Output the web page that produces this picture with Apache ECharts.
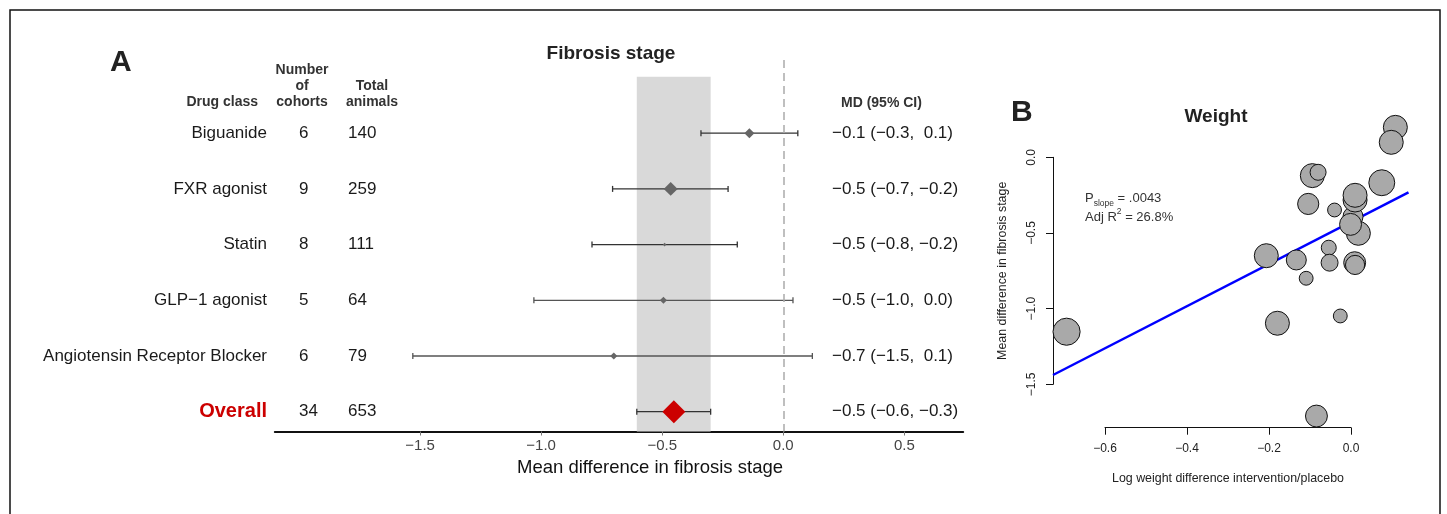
<!DOCTYPE html>
<html>
<head>
<meta charset="utf-8">
<title>Fibrosis stage</title>
<script src="https://cdn.jsdelivr.net/npm/echarts@6/dist/echarts.min.js"></script>
<style>
  html, body { margin: 0; padding: 0; background: #fff; }
  #chart { width: 1447px; height: 514px; }
</style>
</head>
<body>
<div id="chart"></div>
<script>
// ---- panel A: forest plot ----
var drugClasses = ['Biguanide', 'FXR agonist', 'Statin', 'GLP\u22121 agonist', 'Angiotensin Receptor Blocker', 'Overall'];
var cohorts = [6, 9, 8, 5, 6, 34];
var animals = [140, 259, 111, 64, 79, 653];
var mdMean = [-0.14, -0.465, -0.49, -0.495, -0.70, -0.452];
var mdLow = [-0.34, -0.705, -0.79, -1.03, -1.53, -0.605];
var mdHigh = [0.06, -0.228, -0.19, 0.04, 0.12, -0.30];
var classWeight = [16, 31, 2, 8, 8];
var forestTicks = [-1.5, -1.0, -0.5, 0.0, 0.5];

// ---- panel B: meta-regression on weight ----
var logWeightDiff = [0.109, 0.099, 0.076, -0.093, -0.079, -0.103, -0.039, 0.019, 0.006, 0.000, 0.011, 0.011,
  -0.205, -0.132, -0.053, -0.051, 0.010, 0.011, -0.108, -0.178, -0.025, -0.691, -0.083];
var fibrosisDiff = [0.198, 0.099, -0.168, -0.121, -0.099, -0.308, -0.348, -0.502, -0.392, -0.443, -0.282, -0.251,
  -0.650, -0.678, -0.597, -0.696, -0.696, -0.711, -0.799, -1.096, -1.048, -1.152, -1.709];
var cohortWeight = [36, 36, 42, 36, 16, 28, 12, 36, 25, 30, 36, 36,
  36, 25, 14, 18, 30, 23, 12, 36, 12, 46, 30];
var regIntercept = -0.428;
var regSlope = 1.395;

var FONT = '"Liberation Sans", Arial, Helvetica, sans-serif';
var nRows = drugClasses.length;

function fmt(v) {
  return (v < 0 ? '\u2212' : '') + Math.abs(v).toFixed(1);
}
function ciText(i) {
  return fmt(mdMean[i]) + ' (' + fmt(mdLow[i]) + ', ' + (mdHigh[i] >= 0 ? ' ' : '') + fmt(mdHigh[i]) + ')';
}

function txt(text, x, y, align, font, fill) {
  return {
    type: 'text',
    style: {
      text: text, x: x, y: y,
      align: align, textAlign: align,
      verticalAlign: 'middle', textVerticalAlign: 'middle',
      font: font, fill: fill
    }
  };
}

// table text drawn alongside each forest row
function renderTable(params, api) {
  var i = params.dataIndex;
  var y = api.coord([0, api.value(1)])[1];
  var isOverall = i === nRows - 1;
  var f = '17px ' + FONT;
  return {
    type: 'group',
    children: [
      txt(drugClasses[i], 267, y, 'right', isOverall ? 'bold 20px ' + FONT : f, isOverall ? '#cc0000' : '#1a1a1a'),
      txt(String(cohorts[i]), 299, y, 'left', f, '#1a1a1a'),
      txt(String(animals[i]), 348, y, 'left', f, '#1a1a1a'),
      txt(ciText(i), 832, y, 'left', f, '#1a1a1a')
    ]
  };
}

function renderCI(params, api) {
  var i = params.dataIndex;
  var y = api.coord([0, api.value(2)])[1];
  var x1 = api.coord([api.value(0), 0])[0];
  var x2 = api.coord([api.value(1), 0])[0];
  var c = (i === 3 || i === 4) ? '#555' : '#333';
  var st = { stroke: c, lineWidth: 1.3 };
  return {
    type: 'group',
    children: [
      { type: 'line', shape: { x1: x1, y1: y, x2: x2, y2: y }, style: st },
      { type: 'line', shape: { x1: x1, y1: y - 3, x2: x1, y2: y + 3 }, style: st },
      { type: 'line', shape: { x1: x2, y1: y - 3, x2: x2, y2: y + 3 }, style: st }
    ]
  };
}

var tableData = drugClasses.map(function (d, i) { return [0, i]; });
var ciData = drugClasses.map(function (d, i) { return [mdLow[i], mdHigh[i], i]; });
var classPoints = classWeight.map(function (w, i) { return [mdMean[i], i]; });
var overallPoint = [[mdMean[nRows - 1], nRows - 1]];

var bubbles = logWeightDiff.map(function (x, i) { return [x, fibrosisDiff[i]]; });
var bxMin = -0.724, bxMax = 0.141;
var regLine = [
  [bxMin, regIntercept + regSlope * bxMin],
  [bxMax, regIntercept + regSlope * bxMax]
];

var chart = echarts.init(document.getElementById('chart'));

var option = {
  animation: false,
  backgroundColor: '#fff',
  textStyle: { fontFamily: FONT },
  grid: [
    { left: 274.8, right: 483.8, top: 60, bottom: 82.5 },
    { left: 1053, right: 38.5, top: 124, bottom: 86.3 },
    { left: 1105, right: 96, top: 400, bottom: 86.3 },
    { left: 1053, width: 10, top: 157.3, bottom: 129.7 }
  ],
  xAxis: [
    {
      gridIndex: 0, type: 'value', min: -2.1, max: 0.743, position: 'bottom',
      splitLine: { show: false },
      axisLine: { show: true, onZero: false, lineStyle: { color: '#111', width: 2 } },
      axisTick: { show: true, customValues: forestTicks, length: 4, lineStyle: { color: '#777' } },
      axisLabel: {
        customValues: forestTicks, margin: 7, fontSize: 15, color: '#444', fontFamily: FONT,
        formatter: function (v) { return fmt(v); }
      },
      name: 'Mean difference in fibrosis stage', nameLocation: 'middle', nameGap: 24,
      nameTextStyle: { fontSize: 18.5, color: '#111', fontFamily: FONT, padding: [0, 0, 0, 62] }
    },
    { gridIndex: 1, type: 'value', min: bxMin, max: bxMax, show: false },
    {
      gridIndex: 2, type: 'value', min: -0.6, max: 0, interval: 0.2, position: 'bottom',
      splitLine: { show: false },
      axisLine: { show: true, onZero: false, lineStyle: { color: '#111', width: 1 } },
      axisTick: { show: true, length: 7, lineStyle: { color: '#111' } },
      axisLabel: {
        margin: 15, fontSize: 12, color: '#222', fontFamily: FONT,
        formatter: function (v) { return fmt(v); }
      },
      name: 'Log weight difference intervention/placebo', nameLocation: 'middle', nameGap: 45,
      nameTextStyle: { fontSize: 12.4, color: '#222', fontFamily: FONT }
    },
    { gridIndex: 3, type: 'value', show: false }
  ],
  yAxis: [
    { gridIndex: 0, type: 'value', inverse: true, min: -1.314, max: 5.355, show: false },
    { gridIndex: 1, type: 'value', min: -1.786, max: 0.22, show: false },
    { gridIndex: 2, type: 'value', show: false },
    {
      gridIndex: 3, type: 'value', min: -1.5, max: 0, interval: 0.5, position: 'left',
      splitLine: { show: false },
      axisLine: { show: true, onZero: false, lineStyle: { color: '#111', width: 1 } },
      axisTick: { show: true, length: 7, lineStyle: { color: '#111' } },
      axisLabel: {
        rotate: 90, margin: 15, fontSize: 12, color: '#222', fontFamily: FONT,
        formatter: function (v) { return fmt(v); }
      },
      name: 'Mean difference in fibrosis stage', nameLocation: 'middle', nameGap: 44,
      nameTextStyle: { fontSize: 12.4, color: '#222', fontFamily: FONT }
    }
  ],
  series: [
    {
      // carrier for the overall-CI band and the null line
      type: 'scatter', xAxisIndex: 0, yAxisIndex: 0, symbolSize: 0, silent: true, z: 1,
      data: [[mdLow[nRows - 1], nRows - 1]],
      markArea: {
        silent: true,
        itemStyle: { color: '#d9d9d9', opacity: 1 },
        data: [[{ xAxis: mdLow[nRows - 1], yAxis: -1.014 }, { xAxis: mdHigh[nRows - 1], yAxis: 5.355 }]]
      },
      markLine: {
        silent: true, symbol: 'none',
        label: { show: false },
        lineStyle: { color: '#aaa', type: [8, 5], width: 1.5 },
        data: [{ xAxis: 0 }]
      }
    },
    {
      type: 'custom', xAxisIndex: 0, yAxisIndex: 0, z: 3,
      renderItem: renderCI,
      encode: { x: [0, 1], y: 2 },
      data: ciData
    },
    {
      type: 'scatter', xAxisIndex: 0, yAxisIndex: 0, z: 4,
      symbol: 'diamond',
      symbolSize: function (v, p) { return 2.5 * Math.sqrt(classWeight[p.dataIndex]); },
      itemStyle: { color: '#666', opacity: 1 },
      data: classPoints
    },
    {
      type: 'scatter', xAxisIndex: 0, yAxisIndex: 0, z: 4,
      symbol: 'diamond', symbolSize: [23, 23],
      itemStyle: { color: '#cc0000', opacity: 1 },
      data: overallPoint
    },
    {
      type: 'custom', xAxisIndex: 0, yAxisIndex: 0, z: 5,
      renderItem: renderTable,
      encode: { x: 0, y: 1 },
      data: tableData
    },
    {
      type: 'line', xAxisIndex: 1, yAxisIndex: 1, z: 2, clip: false,
      symbol: 'none',
      lineStyle: { color: '#0000ff', width: 2.5 },
      data: regLine
    },
    {
      type: 'scatter', xAxisIndex: 1, yAxisIndex: 1, z: 3, clip: false,
      symbolSize: function (v, p) { return 4 * Math.sqrt(cohortWeight[p.dataIndex]); },
      itemStyle: { color: '#a9a9a9', borderColor: '#111', borderWidth: 1, opacity: 1 },
      data: bubbles
    }
  ],
  graphic: [
    {
      type: 'polyline', silent: true,
      shape: { points: [[10, 520], [10, 10], [1440, 10], [1440, 520]] },
      style: { stroke: '#111', lineWidth: 1.5, fill: null }
    },
    txt('A', 110, 63, 'left', 'bold 30px ' + FONT, '#222'),
    txt('B', 1011, 113, 'left', 'bold 30px ' + FONT, '#222'),
    txt('Fibrosis stage', 611, 54, 'center', 'bold 19px ' + FONT, '#222'),
    txt('Weight', 1216, 117, 'center', 'bold 19px ' + FONT, '#222'),
    txt('Drug class', 258, 102.5, 'right', 'bold 14px ' + FONT, '#333'),
    txt('Number', 302, 70.5, 'center', 'bold 14px ' + FONT, '#333'),
    txt('of', 302, 86.5, 'center', 'bold 14px ' + FONT, '#333'),
    txt('cohorts', 302, 102.5, 'center', 'bold 14px ' + FONT, '#333'),
    txt('Total', 372, 86.5, 'center', 'bold 14px ' + FONT, '#333'),
    txt('animals', 372, 102.5, 'center', 'bold 14px ' + FONT, '#333'),
    txt('MD (95% CI)', 841, 103.5, 'left', 'bold 14px ' + FONT, '#333'),
    {
      type: 'text', silent: true,
      style: {
        x: 1085, y: 198, align: 'left', textAlign: 'left', verticalAlign: 'middle', textVerticalAlign: 'middle',
        text: '{m|P}{s|slope}{m| = .0043}',
        rich: {
          m: { fontSize: 13, fontFamily: FONT, fill: '#333', color: '#333', lineHeight: 20 },
          s: { fontSize: 8.5, fontFamily: FONT, fill: '#333', color: '#333', verticalAlign: 'bottom', lineHeight: 14 }
        }
      }
    },
    {
      type: 'text', silent: true,
      style: {
        x: 1085, y: 217, align: 'left', textAlign: 'left', verticalAlign: 'middle', textVerticalAlign: 'middle',
        text: '{m|Adj R}{u|2}{m| = 26.8%}',
        rich: {
          m: { fontSize: 13, fontFamily: FONT, fill: '#333', color: '#333', lineHeight: 20 },
          u: { fontSize: 8.5, fontFamily: FONT, fill: '#333', color: '#333', verticalAlign: 'top', lineHeight: 14 }
        }
      }
    }
  ]
};

chart.setOption(option);
</script>
</body>
</html>
